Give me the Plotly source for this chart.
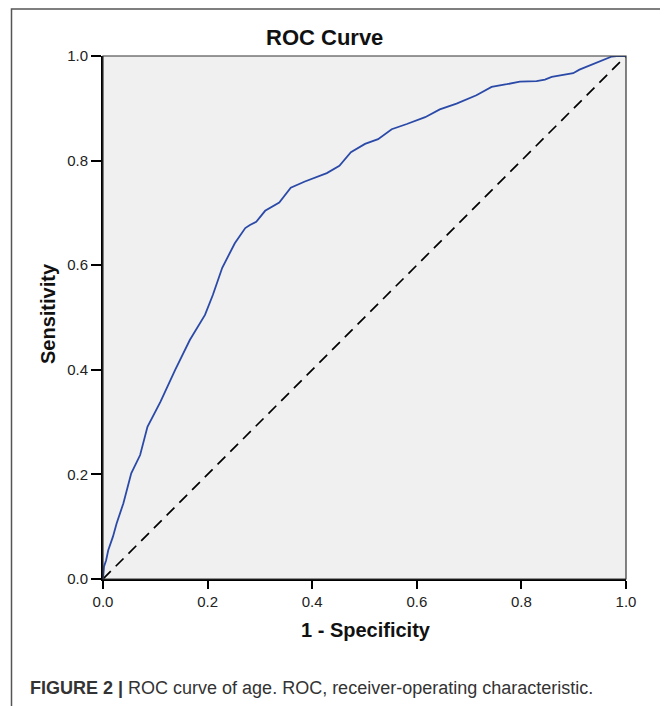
import plotly.graph_objects as go

fpr = [0.0, 0.002, 0.006, 0.010, 0.019, 0.026, 0.039, 0.054, 0.071, 0.085, 0.110, 0.128,
       0.138, 0.166, 0.195, 0.210, 0.228, 0.252, 0.272, 0.281, 0.293, 0.310, 0.337, 0.359,
       0.386, 0.428, 0.452, 0.474, 0.501, 0.526, 0.552, 0.581, 0.616, 0.644, 0.676, 0.714,
       0.743, 0.772, 0.797, 0.829, 0.845, 0.858, 0.899, 0.911, 0.944, 0.963, 0.973, 0.982, 1.0]
tpr = [0.0, 0.024, 0.036, 0.055, 0.081, 0.106, 0.145, 0.202, 0.237, 0.291, 0.339, 0.380,
       0.400, 0.457, 0.505, 0.543, 0.595, 0.642, 0.671, 0.677, 0.683, 0.704, 0.720, 0.748,
       0.760, 0.776, 0.790, 0.816, 0.832, 0.841, 0.860, 0.870, 0.883, 0.898, 0.909, 0.925,
       0.941, 0.946, 0.951, 0.952, 0.955, 0.960, 0.967, 0.974, 0.987, 0.994, 0.999, 1.0, 1.0]
ref_x = [0.0, 1.0]
ref_y = [0.0, 1.0]
tick_vals = [0.0, 0.2, 0.4, 0.6, 0.8, 1.0]
tick_text = ["0.0", "0.2", "0.4", "0.6", "0.8", "1.0"]

OFF = 8  # page body margin
W, H = 668 - OFF, 706 - OFF
L, R, T, B = 103 - OFF, 626 - OFF, 56 - OFF, 579 - OFF
pw, ph = R - L, B - T

def px(x):
    return (x - OFF - L) / pw

def py(y):
    return (B - (y - OFF)) / ph

FONT = "Liberation Sans, Arial, sans-serif"

fig = go.Figure()
fig.add_trace(go.Scatter(x=ref_x, y=ref_y, mode="lines",
                         line=dict(color="black", width=1.7, dash="11px,7px"),
                         hoverinfo="skip", showlegend=False))
fig.add_trace(go.Scatter(x=fpr, y=tpr, mode="lines",
                         line=dict(color="#2b4aa8", width=1.8),
                         showlegend=False))

axis_common = dict(range=[0, 1], tickvals=tick_vals, ticktext=tick_text,
                   showgrid=False, zeroline=False, showline=True, linecolor="black",
                   linewidth=2, ticks="outside", tickwidth=2, tickcolor="black",
                   tickfont=dict(family=FONT, size=15, color="#222"), mirror=False)

fig.update_xaxes(ticklen=8, **axis_common)
fig.update_yaxes(ticklen=10, **axis_common)

fig.update_layout(
    width=W, height=H,
    margin=dict(l=L, r=W - R, t=T, b=H - B, autoexpand=False),
    plot_bgcolor="#f0f0f0", paper_bgcolor="white",
    shapes=[
        dict(type="rect", xref="paper", yref="paper", x0=0, x1=1, y0=0, y1=1,
             line=dict(color="#333", width=1.2), layer="above"),
        dict(type="rect", xref="paper", yref="paper", x0=px(11.5), x1=px(665.5),
             y0=py(712), y1=py(9), line=dict(color="#555", width=1.5)),
    ],
    annotations=[
        dict(text="<b>ROC Curve</b>", xref="paper", yref="paper", x=px(324), y=py(37),
             showarrow=False, xanchor="center", yanchor="middle",
             font=dict(family=FONT, size=22, color="#111")),
        dict(text="<b>1 - Specificity</b>", xref="paper", yref="paper", x=px(366), y=py(630),
             showarrow=False, xanchor="center", yanchor="middle",
             font=dict(family=FONT, size=20, color="#111")),
        dict(text="<b>Sensitivity</b>", xref="paper", yref="paper", x=px(48), y=py(314),
             showarrow=False, xanchor="center", yanchor="middle", textangle=-90,
             font=dict(family=FONT, size=20, color="#111")),
        dict(text="<b>FIGURE 2 |</b> ROC curve of age. ROC, receiver-operating characteristic.",
             xref="paper", yref="paper", x=px(27.5), y=py(688),
             showarrow=False, xanchor="left", yanchor="middle",
             font=dict(family=FONT, size=18, color="#333")),
    ],
)

fig.write_html("out.html")
